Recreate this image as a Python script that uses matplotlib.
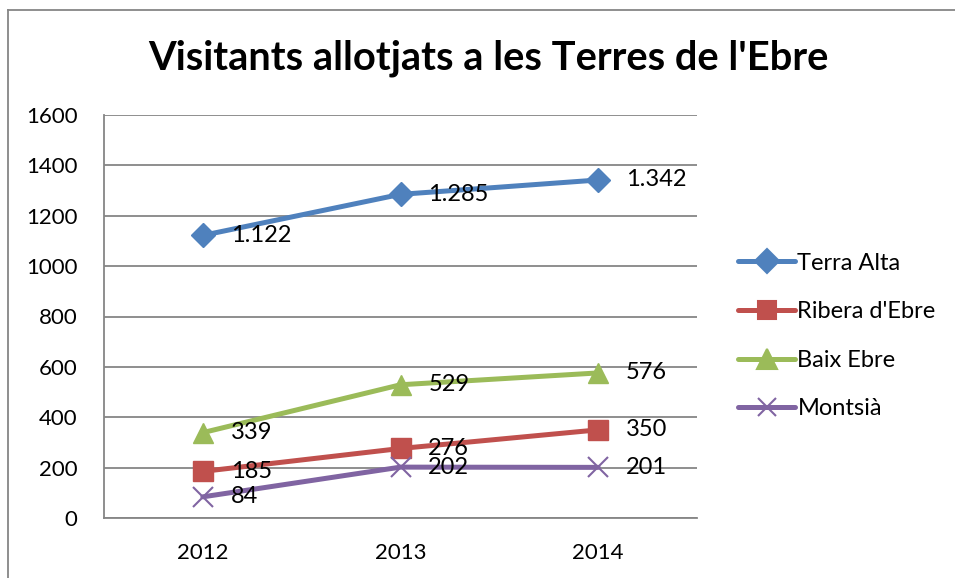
import matplotlib.pyplot as plt
from matplotlib.lines import Line2D

plt.rcParams['font.family'] = ['Lato', 'DejaVu Sans']

years = ['2012', '2013', '2014']
terra_alta = [1122, 1285, 1342]
ribera = [185, 276, 350]
baix_ebre = [339, 529, 576]
montsia = [84, 202, 201]
series_names = ['Terra Alta', "Ribera d'Ebre", 'Baix Ebre', 'Montsià']
y_ticks = [0, 200, 400, 600, 800, 1000, 1200, 1400, 1600]

W, H = 955, 578
fig = plt.figure(figsize=(W / 100, H / 100), dpi=100)
ax = fig.add_axes([104 / W, (H - 518) / H, (697 - 104) / W, (518 - 115) / H])

styles = [
    ('#4F81BD', 'D', 12.5),
    ('#C0504D', 's', 14),
    ('#9BBB59', '^', 15),
    ('#8064A2', 'x', 14),
]
x = range(len(years))
handles = []
for vals, name, (col, mk, ms) in zip([terra_alta, ribera, baix_ebre, montsia], series_names, styles):
    if mk == 'x':
        ax.plot(x, vals, color=col, lw=3.6, solid_capstyle='round', zorder=3)
        ax.plot(x, vals, ls='none', marker='x', ms=ms, mew=1.5, color=col, zorder=4)
    else:
        ax.plot(x, vals, color=col, lw=3.6, marker=mk, ms=ms, mec=col, mfc=col,
                solid_capstyle='round', zorder=3)
    # data labels, thousands with a dot
    for xi, v in zip(x, vals):
        lab = f'{v:,}'.replace(',', '.')
        ax.annotate(lab, (xi, v), xytext=(20, 0), textcoords='offset points',
                    ha='left', va='center', fontsize=17, zorder=5)
    handles.append(Line2D([0], [0], color=col, lw=3.6, marker=mk, ms=ms * 0.95,
                          mew=1.5, mec=col, mfc=col, solid_capstyle='round'))

ax.set_xlim(-0.5, 2.5)
ax.set_ylim(0, 1600)
ax.set_yticks(y_ticks)
ax.set_xticks(list(x))
ax.set_xticklabels(years)
ax.tick_params(axis='both', length=0, labelsize=16)
ax.tick_params(axis='y', pad=19)
ax.tick_params(axis='x', pad=18)
ax.grid(axis='y', color='#868686', lw=1.3)
ax.set_axisbelow(True)
for s in ['top', 'right']:
    ax.spines[s].set_visible(False)
for s in ['left', 'bottom']:
    ax.spines[s].set_color('#868686')
    ax.spines[s].set_linewidth(1.3)

fig.text(488 / W, 1 - 58 / H, "Visitants allotjats a les Terres de l'Ebre",
         ha='center', va='center', fontsize=28.7, fontweight='bold')

fig.legend(handles, series_names, loc='center left', bbox_to_anchor=(729 / W, 1 - 336 / H),
           frameon=False, fontsize=17, handlelength=2.4, handletextpad=0.1,
           labelspacing=1.17, borderaxespad=0)

# outer chart frame (only top and left visible)
fig.add_artist(Line2D([8 / W, 8 / W], [0, 1 - 10 / H], color='#868686', lw=1.3,
                      transform=fig.transFigure))
fig.add_artist(Line2D([8 / W, 1], [1 - 10 / H, 1 - 10 / H], color='#868686', lw=1.3,
                      transform=fig.transFigure))

fig.savefig('out.png', dpi=100)
